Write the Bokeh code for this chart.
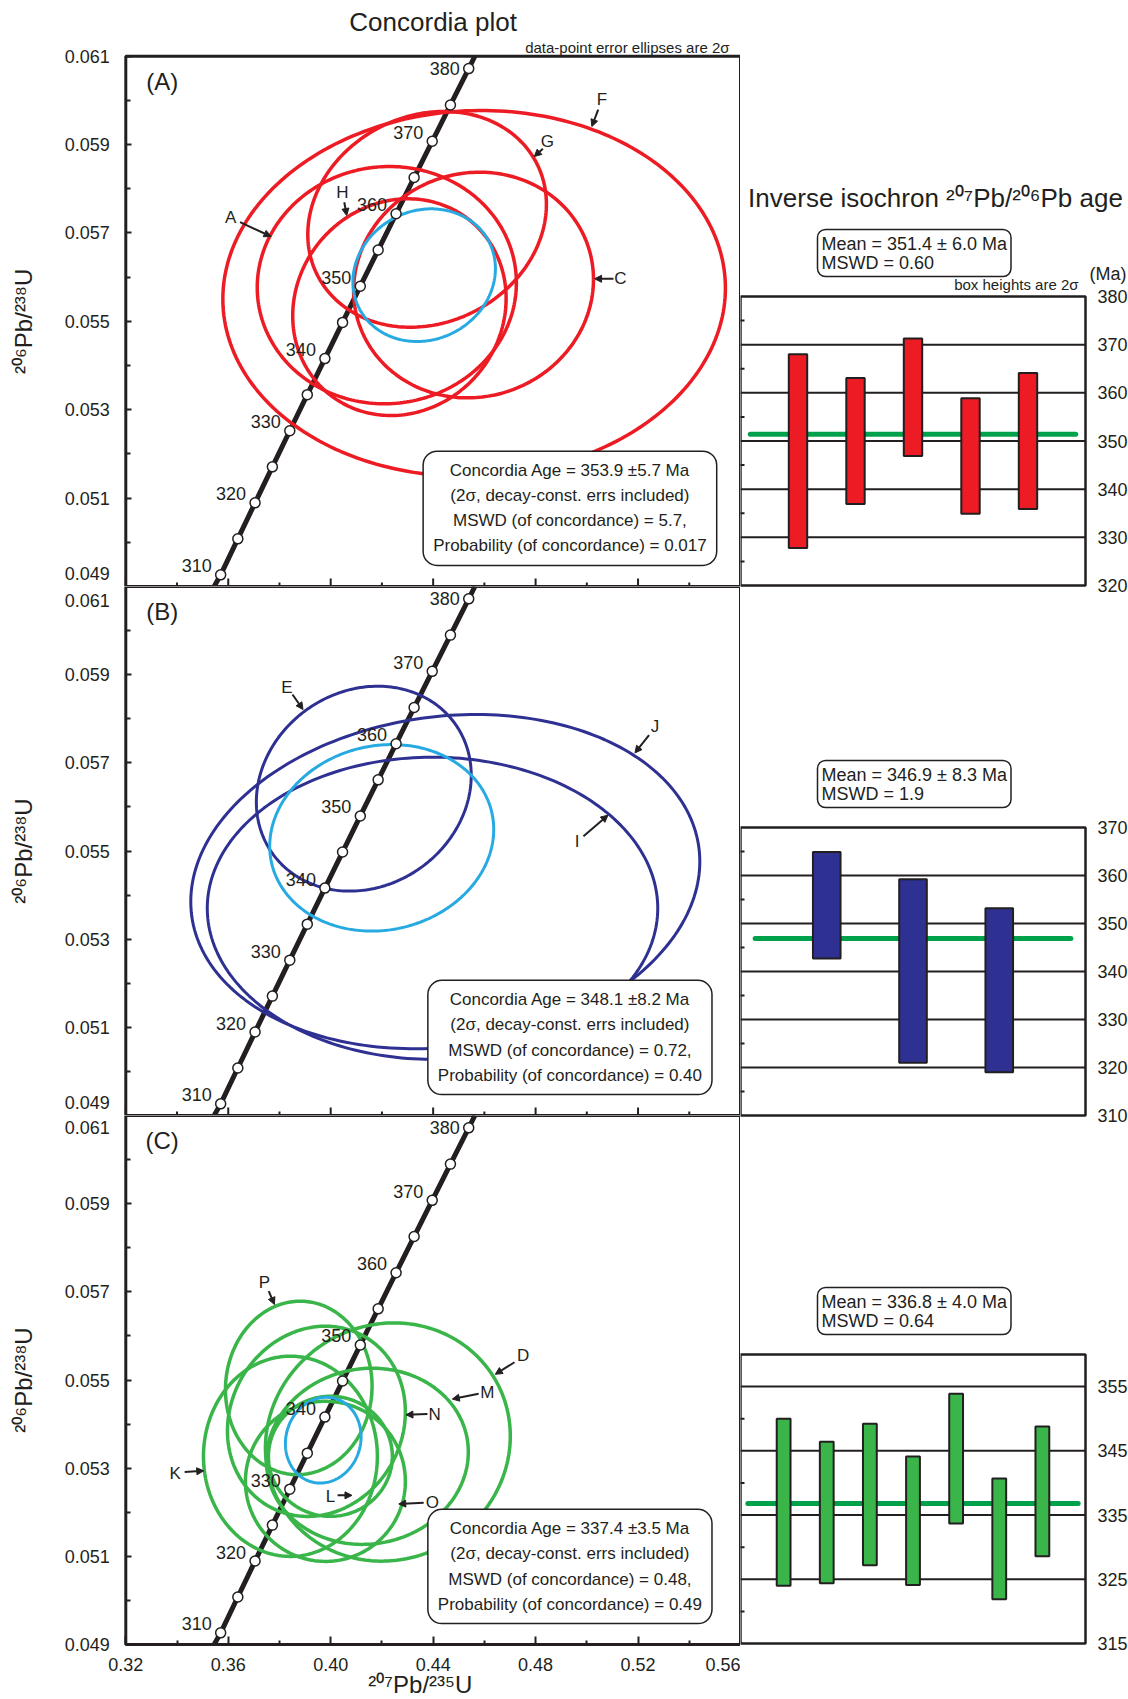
import numpy as np
from bokeh.plotting import figure
from bokeh.layouts import column, row
from bokeh.models import (ColumnDataSource, Range1d, LinearAxis, FixedTicker,
                          PrintfTickFormatter, Label, Arrow, NormalHead)
from bokeh.core.properties import value
from bokeh.embed import file_html
from bokeh.resources import INLINE

FONT = "Liberation Sans"
INK = "#231F20"
RED = "#ED1C24"
NAVY = "#2E3192"
GREEN = "#39B54A"
SKY = "#27AAE1"
MEANLINE = "#00A14B"

# ---------------- data ----------------
# Concordia age marks (Ma) with their 207Pb/235U and 206Pb/238U coordinates
conc_age = [310, 315, 320, 325, 330, 335, 340, 345, 350, 355, 360, 365, 370, 375, 380]
conc_x = [0.35704, 0.36374, 0.37047, 0.37723, 0.38403, 0.39086, 0.39773, 0.40463,
          0.41156, 0.41853, 0.42553, 0.43257, 0.43964, 0.44675, 0.45389]
conc_y = [0.049264, 0.050078, 0.050893, 0.051708, 0.052524, 0.053341, 0.054158, 0.054976,
          0.055795, 0.056614, 0.057434, 0.058254, 0.059075, 0.059897, 0.060720]
# where the concordia curve leaves each panel (bottom edge, top edge)
conc_edge_x = [0.35450, 0.45630]
conc_edge_y = [0.049, 0.061]

x_ticks = [0.32, 0.36, 0.40, 0.44, 0.48, 0.52, 0.56]
x_minor = [0.34, 0.38, 0.42, 0.46, 0.50, 0.54]
y_ticks = [0.049, 0.051, 0.053, 0.055, 0.057, 0.059, 0.061]
y_minor = [0.050, 0.052, 0.054, 0.056, 0.058, 0.060]

# Panel A data-point ellipses (centre, 2-sigma half extents, correlation)
ellA_name = ["A", "C", "F", "G", "H"]
ellA_x = [0.42191, 0.45577, 0.45600, 0.43764, 0.42683]
ellA_x2s = [0.05059, 0.04683, 0.09811, 0.04658, 0.04166]
ellA_y = [0.055819, 0.055822, 0.055630, 0.057308, 0.055321]
ellA_y2s = [0.002685, 0.002553, 0.004141, 0.002441, 0.002452]
ellA_rho = [0.02, 0.05, 0.03, 0.14, 0.08]
meanA = [0.43649, 0.02782, 0.056045, 0.001501, 0.10]

# Panel B
ellB_name = ["E", "I", "J"]
ellB_x = [0.41292, 0.43975, 0.44474]
ellB_x2s = [0.04195, 0.08794, 0.09937]
ellB_y = [0.056414, 0.053701, 0.054305]
ellB_y2s = [0.002324, 0.003427, 0.003791]
ellB_rho = [0.13, 0.0, 0.12]
meanB = [0.41992, 0.04373, 0.055299, 0.002116, 0.09]

# Panel C
ellC_name = ["D", "K", "L", "M", "N", "O", "P"]
ellC_x = [0.42232, 0.38427, 0.39988, 0.41432, 0.39442, 0.39793, 0.38753]
ellC_x2s = [0.04780, 0.03395, 0.02419, 0.03941, 0.03473, 0.03122, 0.02862]
ellC_y = [0.053593, 0.053269, 0.053269, 0.053269, 0.054063, 0.052701, 0.054821]
ellC_y2s = [0.002702, 0.002271, 0.001362, 0.001998, 0.002157, 0.001816, 0.001967]
ellC_rho = [0.05, 0.0, 0.0, 0.05, 0.10, 0.0, 0.02]
meanC = [0.39709, 0.01477, 0.053635, 0.000973, 0.08]

# Point letters and their pointer arrows (data coordinates)
letA = ["F", "G", "H", "A", "C"]
letA_x = [0.50591, 0.48460, 0.40453, 0.36098, 0.51309]
letA_y = [0.060029, 0.059077, 0.057922, 0.057343, 0.055963]
arrA = [(0.50443, 0.059792, 0.50197, 0.059409), (0.48285, 0.058905, 0.47949, 0.058730),
        (0.40531, 0.057696, 0.40624, 0.057395), (0.36460, 0.057244, 0.37670, 0.056920),
        (0.51040, 0.055963, 0.50302, 0.055963)]
letB = ["E", "J", "I"]
letB_x = [0.38287, 0.52659, 0.49623]
letB_y = [0.058715, 0.057831, 0.055223]
arrB = [(0.38509, 0.058549, 0.38919, 0.058209), (0.52429, 0.057627, 0.51879, 0.057225),
        (0.49869, 0.055337, 0.50825, 0.055813)]
letC = ["P", "D", "M", "N", "K", "L", "O"]
letC_x = [0.37413, 0.47512, 0.46115, 0.44058, 0.33924, 0.39988, 0.43965]
letC_y = [0.057204, 0.055557, 0.054706, 0.054211, 0.052887, 0.052360, 0.052231]
arrC = [(0.37580, 0.057015, 0.37803, 0.056713), (0.47176, 0.055403, 0.46427, 0.055130),
        (0.45776, 0.054688, 0.44749, 0.054567), (0.43777, 0.054227, 0.42938, 0.054211),
        (0.34298, 0.052914, 0.35044, 0.052939), (0.40269, 0.052383, 0.40831, 0.052383),
        (0.43629, 0.052215, 0.42657, 0.052188)]

boxA = ["Concordia Age = 353.9 \u00b15.7 Ma", "(2\u03c3, decay-const. errs included)",
        "MSWD (of concordance) = 5.7,", "Probability (of concordance) = 0.017"]
boxB = ["Concordia Age = 348.1 \u00b18.2 Ma", "(2\u03c3, decay-const. errs included)",
        "MSWD (of concordance) = 0.72,", "Probability (of concordance) = 0.40"]
boxC = ["Concordia Age = 337.4 \u00b13.5 Ma", "(2\u03c3, decay-const. errs included)",
        "MSWD (of concordance) = 0.48,", "Probability (of concordance) = 0.49"]
box_pos = (0.4934, 0.05077)

# Inverse isochron 207Pb/206Pb ages (Ma) with 2-sigma errors
barA_age = [347.9, 350.0, 359.1, 346.9, 350.0]
barA_err = [20.1, 13.1, 12.2, 12.0, 14.1]
barA_mean = 351.4
barB_age = [353.8, 340.1, 336.1]
barB_err = [11.1, 19.1, 17.1]
barB_mean = 346.9
barC_age = [337.0, 335.4, 338.2, 334.1, 343.8, 331.3, 338.7]
barC_err = [13.0, 11.0, 11.0, 10.0, 10.1, 9.4, 10.1]
barC_mean = 336.8

meanA_text = "Mean = 351.4 \u00b1 6.0 Ma\nMSWD = 0.60"
meanB_text = "Mean = 346.9 \u00b1 8.3 Ma\nMSWD = 1.9"
meanC_text = "Mean = 336.8 \u00b1 4.0 Ma\nMSWD = 0.64"

# ---------------- layout (pixels) ----------------
CONC_W, BAR_W_PX, BOX_W_PX = 740, 388, 345
PX_X = 0.24 / 614.7                     # 207/235 units per pixel
XR = (0.32 - 125.3 * PX_X, 0.56)        # room on the left for the y axis texts
CONC_H = (586, 529, 583)                # heights of the three concordia figures
BAR_H = (680, 520, 498)                 # heights of the three bar figures


def ellipse_path(x0, ex, y0, ey, rho, n=240):
    t = np.linspace(0, 2 * np.pi, n)
    xs = x0 + ex * np.cos(t)
    ys = y0 + ey * (rho * np.cos(t) + np.sqrt(1 - rho ** 2) * np.sin(t))
    return xs.tolist(), ys.tolist()


def txt_label(p, x, y, text, size, align="center", baseline="middle", xo=0, yo=0, **kw):
    lab = Label(x=x, y=y, x_offset=xo, y_offset=yo, text=text, text_font=FONT,
                text_font_size=size, text_color=INK, text_align=align,
                text_baseline=baseline, **kw)
    p.add_layout(lab)
    return lab


def style_axis(ax):
    ax.axis_line_color = None
    ax.major_tick_out = 0
    ax.minor_tick_out = 0
    ax.major_tick_line_color = INK
    ax.major_tick_line_width = 2
    ax.minor_tick_line_color = INK
    ax.minor_tick_line_width = 2
    ax.major_label_text_font = FONT
    ax.major_label_text_font_size = "18px"
    ax.major_label_text_color = INK


def bare_figure(w, h, xr, yr):
    p = figure(width=w, height=h, x_range=Range1d(*xr), y_range=Range1d(*yr),
               output_backend="svg", toolbar_location=None, title=None,
               min_border=0, min_border_left=0, min_border_right=0,
               min_border_top=0, min_border_bottom=0, x_axis_location=None,
               y_axis_location=None)
    p.outline_line_color = None
    p.grid.visible = False
    return p


def conc_panel(height, yr, tag, ex, ex2, ey, ey2, erho, mean_ell, color, lw,
               letters, lx, ly, arrows, box_lines, main_ticks, nudge, show_x):
    p = bare_figure(CONC_W, height, XR, yr)
    px_y = (yr[1] - yr[0]) / height

    ya = LinearAxis(fixed_location=0.32, ticker=FixedTicker(ticks=main_ticks, minor_ticks=y_minor),
                    formatter=PrintfTickFormatter(format="%.3f"), major_label_standoff=16)
    style_axis(ya)
    ya.major_tick_in = 6
    ya.minor_tick_in = 5
    p.add_layout(ya, "left")

    # end labels that sit slightly inside the panel, so neighbouring panels do not collide
    extra = {}
    for i, (v, off) in enumerate(nudge):
        d = off * px_y
        extra["nudge%d" % i] = Range1d(yr[0] - d, yr[1] - d)
    p.extra_y_ranges = extra
    for i, (v, off) in enumerate(nudge):
        na = LinearAxis(y_range_name="nudge%d" % i, ticker=FixedTicker(ticks=[v]),
                        fixed_location=0.32, formatter=PrintfTickFormatter(format="%.3f"),
                        major_label_standoff=16)
        style_axis(na)
        na.major_tick_in = 0
        na.minor_tick_in = 0
        na.minor_tick_line_color = None
        p.add_layout(na, "left")

    txt_label(p, 0.32, 0.055, "\u00b2\u2070\u2076Pb/\u00b2\u00b3\u2078U", "24px",
              xo=-102, angle=np.pi / 2)

    if show_x:
        xa = LinearAxis(fixed_location=0.049,
                        ticker=FixedTicker(ticks=x_ticks, minor_ticks=x_minor),
                        formatter=PrintfTickFormatter(format="%.2f"), major_label_standoff=13)
        style_axis(xa)
        xa.major_tick_in = 8
        xa.minor_tick_in = 4
        p.add_layout(xa, "below")
        txt_label(p, 0.435, 0.049, "\u00b2\u2070\u2077Pb/\u00b2\u00b3\u2075U", "24px", yo=-40)
    else:
        # inward tick marks along the shared lower edge
        p.scatter(x_ticks, [0.049] * len(x_ticks), marker="dash", angle=np.pi / 2, size=16,
                  line_color=INK, line_width=2)
        p.scatter(x_minor, [0.049] * len(x_minor), marker="dash", angle=np.pi / 2, size=8,
                  line_color=INK, line_width=2)

    # concordia curve
    line_x = [conc_edge_x[0]] + conc_x + [conc_edge_x[1]]
    line_y = [conc_edge_y[0]] + conc_y + [conc_edge_y[1]]
    p.line(line_x, line_y, line_color=INK, line_width=5)

    # ellipses
    xs, ys = [], []
    for i in range(len(ex)):
        a, b = ellipse_path(ex[i], ex2[i], ey[i], ey2[i], erho[i])
        xs.append(a)
        ys.append(b)
    p.multi_line(xs, ys, line_color=color, line_width=lw, line_join="round")
    mx, my = ellipse_path(*mean_ell)
    p.line(mx, my, line_color=SKY, line_width=3)

    # concordia age markers and labels
    p.scatter(conc_x, conc_y, size=10, fill_color="white", line_color=INK, line_width=1.5)
    lab_a = [a for a in conc_age if a % 10 == 0]
    lab_src = ColumnDataSource(dict(
        x=[x for a, x in zip(conc_age, conc_x) if a in lab_a],
        y=[y for a, y in zip(conc_age, conc_y) if a in lab_a],
        t=[str(a) for a in lab_a],
        yo=[0 if a == lab_a[-1] else -9 for a in lab_a]))
    p.text("x", "y", text="t", source=lab_src, x_offset=-24, y_offset="yo",
           text_font=value(FONT), text_font_size="18px", text_color=INK,
           text_align="center", text_baseline="middle")

    # point letters + arrows
    p.text(lx, ly, text=letters, text_font=value(FONT), text_font_size="17px",
           text_color=INK, text_align="center", text_baseline="middle")
    for (x0, y0, x1, y1) in arrows:
        p.add_layout(Arrow(end=NormalHead(size=7, fill_color=INK, line_color=INK, line_width=1),
                           x_start=x0, y_start=y0, x_end=x1, y_end=y1,
                           line_color=INK, line_width=2))

    # panel frame
    p.quad(left=[0.32], right=[0.56], bottom=[0.049], top=[0.061], fill_color=None,
           line_color=INK, line_width=3)

    txt_label(p, 0.3342, 0.061, tag, "24px", yo=-25)
    txt_label(p, box_pos[0], box_pos[1], "\n".join(box_lines), "17px",
              text_line_height=1.32, padding=10, border_radius=14,
              background_fill_color="white", border_line_color=INK, border_line_width=1.5)
    return p


def bar_panel(height, lo, hi, y_range, ages, errs, mean, color, label_ticks,
              grid_ticks, mid_ticks, mean_text):
    n = len(ages)
    p = bare_figure(BAR_W_PX, height, (0, (n + 1) * BAR_W_PX / BOX_W_PX), y_range)
    ya = LinearAxis(fixed_location=n + 1, ticker=FixedTicker(ticks=label_ticks),
                    major_label_standoff=12)
    style_axis(ya)
    ya.major_tick_in = 0
    ya.minor_tick_line_color = None
    p.add_layout(ya, "right")

    # horizontal reference lines at the labelled ages
    p.segment(x0=[0] * len(grid_ticks), x1=[n + 1] * len(grid_ticks), y0=grid_ticks,
              y1=grid_ticks, line_color=INK, line_width=2)
    # small inward ticks on the left edge
    p.scatter([0] * len(mid_ticks), mid_ticks, marker="dash", size=8, line_color=INK,
              line_width=2)
    # weighted mean line, then the 2-sigma boxes
    p.segment(x0=[0.17], x1=[n + 0.83], y0=[mean], y1=[mean], line_color=MEANLINE,
              line_width=5, line_cap="round")
    src = ColumnDataSource(dict(x=list(range(1, n + 1)),
                                top=[a + e for a, e in zip(ages, errs)],
                                bottom=[a - e for a, e in zip(ages, errs)]))
    p.vbar(x="x", width=0.32, top="top", bottom="bottom", source=src, fill_color=color,
           line_color=INK, line_width=2)
    # panel box
    p.quad(left=[0], right=[n + 1], bottom=[lo], top=[hi], fill_color=None, line_color=INK,
           line_width=2.5)
    txt_label(p, 0, hi, mean_text, "18px", align="left", baseline="bottom", xo=77, yo=20,
              text_line_height=0.95, padding=4, border_radius=8,
              background_fill_color="white", border_line_color=INK, border_line_width=1.5)
    return p


# ---------------- panels ----------------
PXY_A = 0.012 / 530.3
PXY_C = 0.012 / 529
YR_A = (0.049, 0.061 + 55.7 * PXY_A)
YR_B = (0.049, 0.061)
YR_C = (0.049 - (CONC_H[2] - 529) * PXY_C, 0.061)

cA = conc_panel(CONC_H[0], YR_A, "(A)", ellA_x, ellA_x2s, ellA_y, ellA_y2s, ellA_rho, meanA,
                RED, 3.5, letA, letA_x, letA_y, arrA, boxA,
                main_ticks=[0.051, 0.053, 0.055, 0.057, 0.059, 0.061],
                nudge=[(0.049, 13)], show_x=False)
txt_label(cA, 0.44, 0.061, "Concordia plot", "26px", yo=34)
txt_label(cA, 0.56, 0.061, "data-point error ellipses are 2\u03c3", "15px", align="right",
          xo=-11, yo=9)

cB = conc_panel(CONC_H[1], YR_B, "(B)", ellB_x, ellB_x2s, ellB_y, ellB_y2s, ellB_rho, meanB,
                NAVY, 3, letB, letB_x, letB_y, arrB, boxB,
                main_ticks=[0.051, 0.053, 0.055, 0.057, 0.059],
                nudge=[(0.049, 13), (0.061, -14)], show_x=False)

cC = conc_panel(CONC_H[2], YR_C, "(C)", ellC_x, ellC_x2s, ellC_y, ellC_y2s, ellC_rho, meanC,
                GREEN, 3.5, letC, letC_x, letC_y, arrC, boxC,
                main_ticks=[0.049, 0.051, 0.053, 0.055, 0.057, 0.059],
                nudge=[(0.061, -12)], show_x=True)

# bar panels: box tops/bottoms (page px) A 296-585, B 827-1115, C 1354-1643
PPM_A, PPM_B, PPM_C = 289 / 60, 288 / 60, 289 / 45
bA = bar_panel(BAR_H[0], 320, 380, (320 - 95 / PPM_A, 380 + 296 / PPM_A), barA_age, barA_err,
               barA_mean, RED, [320, 330, 340, 350, 360, 370, 380], [330, 340, 350, 360, 370],
               [325, 335, 345, 355, 365, 375], meanA_text)
txt_label(bA, 0, 380, "Inverse isochron \u00b2\u2070\u2077Pb/\u00b2\u2070\u2076Pb age", "26px",
          xo=195, yo=99)
txt_label(bA, 6, 380, "box heights are 2\u03c3", "15px", align="right", xo=-7, yo=12)
txt_label(bA, 6, 380, "(Ma)", "18px", align="right", xo=41, yo=23)

bB = bar_panel(BAR_H[1], 310, 370, (310 - 85 / PPM_B, 370 + 147 / PPM_B), barB_age, barB_err,
               barB_mean, NAVY, [310, 320, 330, 340, 350, 360, 370], [320, 330, 340, 350, 360],
               [315, 325, 335, 345, 355, 365], meanB_text)

bC = bar_panel(BAR_H[2], 315, 360, (315 - (BAR_H[2] - 443) / PPM_C, 360 + 154 / PPM_C),
               barC_age, barC_err, barC_mean, GREEN, [315, 325, 335, 345, 355],
               [325, 335, 345, 355], [320, 330, 340, 350], meanC_text)

layout = row(column(cA, cB, cC, spacing=0), column(bA, bB, bC, spacing=0), spacing=0)

open("out.html", "w").write(file_html(layout, INLINE))
